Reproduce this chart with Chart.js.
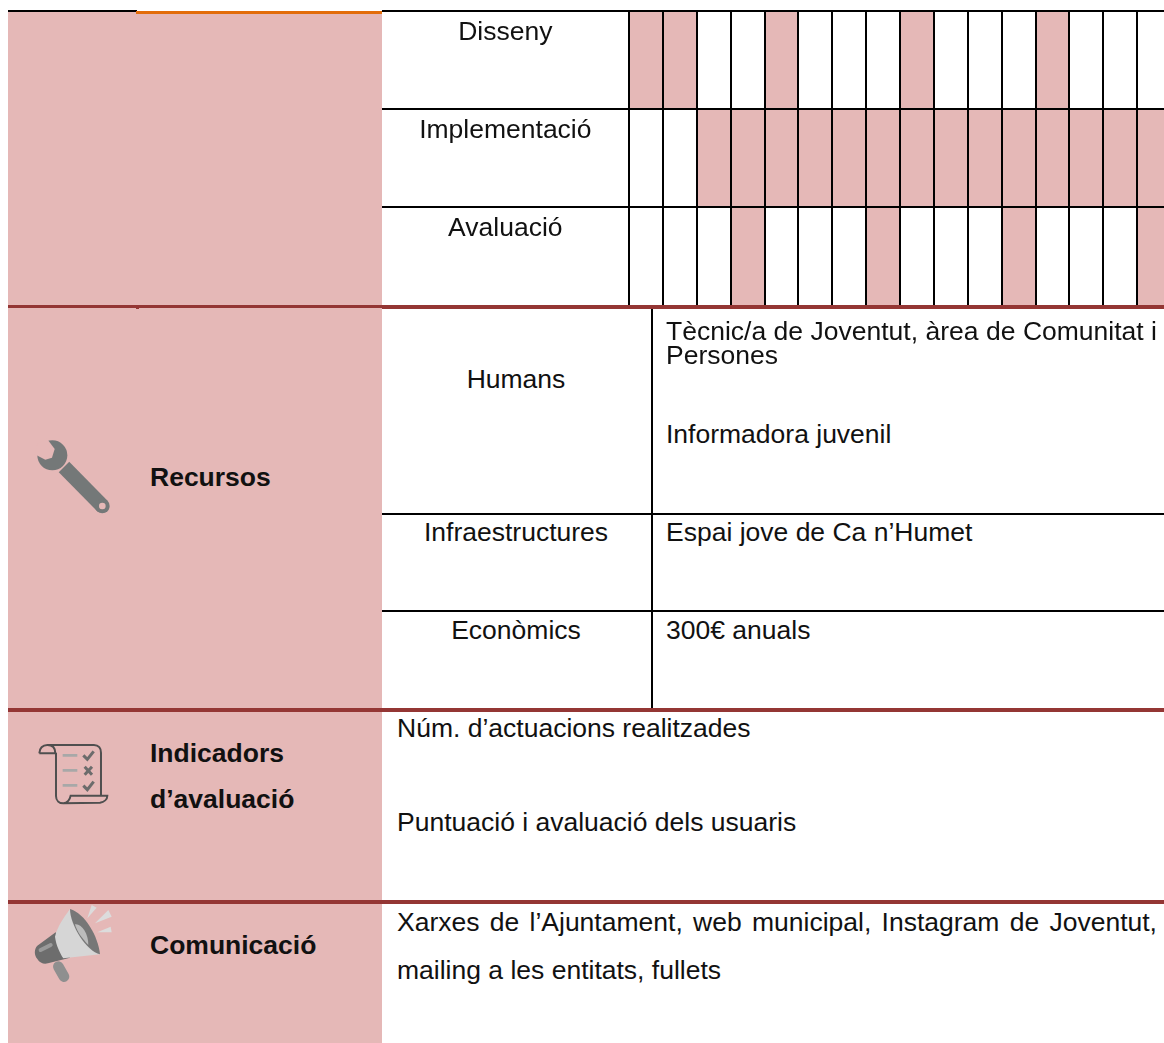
<!DOCTYPE html>
<html lang="ca">
<head>
<meta charset="utf-8">
<title>Recursos</title>
<script src="https://cdn.jsdelivr.net/npm/chart.js@4"></script>
<style>
html, body { margin: 0; padding: 0; background: #fff; }
body { position: relative; width: 1164px; height: 1043px; overflow: hidden; font-family: "Liberation Sans", Arial, sans-serif; font-size: 26.5px; color: #111; }
#fluxoGantt { position: absolute; left: 382px; top: 0; }
.b { position: absolute; }
.t { position: absolute; line-height: 30px; white-space: nowrap; }
.c { transform: translateX(-50%); }
.n { font-weight: bold; }
.j { white-space: normal; text-align: justify; text-align-last: justify; }
svg { position: absolute; left: 0; top: 0; }
</style>
</head>
<body>
<!-- columna rosa -->
<div class="b" style="left:8px;top:12px;width:374px;height:1031px;background:#e5b8b7"></div>
<div class="b" style="left:8px;top:10px;width:129px;height:2px;background:#000"></div>
<div class="b" style="left:136px;top:11px;width:246px;height:3px;background:#e36c0a"></div>

<canvas id="fluxoGantt" width="789" height="320"></canvas>

<!-- taula de recursos -->
<div class="b" style="left:651px;top:308px;width:2px;height:400px;background:#000"></div>
<div class="b" style="left:382px;top:513px;width:782px;height:2px;background:#000"></div>
<div class="b" style="left:382px;top:610px;width:782px;height:2px;background:#000"></div>

<!-- separadors -->
<div class="b" style="left:8px;top:305px;width:1156px;height:3px;background:#943634"></div>
<div class="b" style="left:382px;top:308px;width:782px;height:1px;background:#943634"></div>
<div class="b" style="left:136px;top:308px;width:3px;height:1px;background:#943634"></div>
<div class="b" style="left:8px;top:708px;width:1156px;height:4px;background:#943634"></div>
<div class="b" style="left:8px;top:900px;width:1156px;height:4px;background:#943634"></div>

<div class="t c" style="left:516px;top:364px">Humans</div>
<div class="t c" style="left:516px;top:517px">Infraestructures</div>
<div class="t c" style="left:516px;top:615px">Econòmics</div>
<div class="t j" style="left:666px;top:316px;width:491px">Tècnic/a de Joventut, àrea de Comunitat i</div>
<div class="t" style="left:666px;top:340px">Persones</div>
<div class="t" style="left:666px;top:419px">Informadora juvenil</div>
<div class="t" style="left:666px;top:517px">Espai jove de Ca n’Humet</div>
<div class="t" style="left:666px;top:615px">300€ anuals</div>
<div class="t n" style="left:150px;top:462px">Recursos</div>
<div class="t n" style="left:150px;top:738px">Indicadors</div>
<div class="t n" style="left:150px;top:784px">d’avaluació</div>
<div class="t n" style="left:150px;top:930px">Comunicació</div>
<div class="t" style="left:397px;top:713px">Núm. d’actuacions realitzades</div>
<div class="t" style="left:397px;top:807px">Puntuació i avaluació dels usuaris</div>
<div class="t j" style="left:397px;top:907px;width:760px">Xarxes de l’Ajuntament, web municipal, Instagram de Joventut,</div>
<div class="t" style="left:397px;top:955px">mailing a les entitats, fullets</div>

<svg width="1164" height="1043" viewBox="0 0 1164 1043">
  <!-- clau anglesa -->
  <g transform="translate(20,425) scale(0.3333)">
    <circle cx="97" cy="91" r="45" fill="#747878"/>
    <polygon points="52,58 80,40 104,72 96,98 76,104 44,88" fill="#e5b8b7"/>
    <path d="M132,126 L247,243" stroke="#747878" stroke-width="44" fill="none"/>
    <circle cx="247" cy="243" r="22" fill="#747878"/>
    <circle cx="247" cy="243" r="10" fill="#e5b8b7"/>
  </g>
  <!-- llista -->
  <g transform="translate(20,730) scale(0.3333)" fill="none" stroke="#4f4f4f" stroke-width="6">
    <path d="M58,70 C58,55 68,45 82,45 L222,45 C236,45 243,55 243,68 L243,196"/>
    <path d="M58,70 L106,70 C106,55 98,45 82,45"/>
    <path d="M108,68 L108,198 C108,212 118,220 130,220 L240,218 C252,216 262,208 262,197 L152,197 C150,208 142,220 130,220"/>
    <path d="M128,76 L172,76 M128,121 L172,121 M128,166 L172,166" stroke="#a8a8a8" stroke-width="8"/>
    <path d="M190,76 L202,88 L221,64 M194,110 L216,134 M216,110 L194,134 M190,167 L202,179 L221,155" stroke="#6c6c6c" stroke-width="9"/>
  </g>
  <!-- megafon -->
  <g transform="translate(20,895) scale(0.3333)">
    <path d="M132,245 L115,215" stroke="#8f8f8f" stroke-width="32" stroke-linecap="round" fill="none"/>
    <path d="M107,112 L52,152 C42,162 42,180 52,192 C60,205 72,208 84,205 L150,188 Z" fill="#6d6d6d"/>
    <path d="M62,165 L92,150" stroke="#999" stroke-width="12" stroke-linecap="round"/>
    <path d="M150,42 C130,70 112,95 105,125 C108,150 120,175 130,190 L240,178 Z" fill="#d6d6d6"/>
    <path d="M150,42 C195,55 235,125 240,178 C200,170 150,90 150,42 Z" fill="#777"/>
    <path d="M165,88 C185,85 205,115 205,150 C190,135 170,110 165,88 Z" fill="#bcbcbc"/>
    <polygon points="215,30 230,38 202,70" fill="#dcdcdc"/>
    <polygon points="265,45 275,65 225,85" fill="#dcdcdc"/>
    <polygon points="272,95 275,112 232,112" fill="#dcdcdc"/>
  </g>
</svg>

<script>
const fases = ["Disseny", "Implementació", "Avaluació"];
const mesos = 16; // columnes del cronograma

// columnes marcades de cada fase
const mesosDisseny = [0, 1, 4, 8, 12];
const mesosImplementacio = [2, 3, 4, 5, 6, 7, 8, 9, 10, 11, 12, 13, 14, 15];
const mesosAvaluacio = [3, 7, 11, 15];

function celes(fase, llista) {
    return llista.map(m => ({ x: [m, m + 1], y: fase }));
}

// la linia de sota de l'ultima fila (sense tick) ja es el separador granat
const colorFila = c => (c.tick ? "#000" : "transparent");

const ctx = document.getElementById("fluxoGantt").getContext("2d");

new Chart(ctx, {
    type: "bar",
    data: {
        labels: fases,
        datasets: [{
            label: "Cronograma",
            data: [
                ...celes(fases[0], mesosDisseny),
                ...celes(fases[1], mesosImplementacio),
                ...celes(fases[2], mesosAvaluacio)
            ],
            backgroundColor: "#e5b8b7",
            borderWidth: 0,
            barPercentage: 1,
            categoryPercentage: 1,
            grouped: false
        }]
    },
    options: {
        indexAxis: "y",
        responsive: false,
        animation: false,
        events: [],
        layout: { padding: { top: 11, bottom: 15, left: 0, right: 0 } },
        plugins: { legend: { display: false }, tooltip: { enabled: false } },
        scales: {
            x: {
                type: "linear",
                min: 0,
                max: mesos,
                ticks: { display: false, stepSize: 1 },
                border: { display: false },
                grid: { color: "#000", lineWidth: 2, drawTicks: false, z: 1 }
            },
            y: {
                type: "category",
                offset: true,
                afterFit: scale => { scale.width = 247; },
                border: { display: false },
                grid: { color: colorFila, tickColor: colorFila, lineWidth: 2, offset: true, tickLength: 247, z: 1 },
                ticks: {
                    autoSkip: false,
                    crossAlign: "center",
                    padding: -209.5,
                    color: "#111",
                    font: { family: "'Liberation Sans', Arial, sans-serif", size: 26.5, lineHeight: "27px" },
                    // dues linies buides per pujar el text a dalt de la fila
                    callback: value => [fases[value], "", ""]
                }
            }
        }
    }
});
</script>
</body>
</html>
